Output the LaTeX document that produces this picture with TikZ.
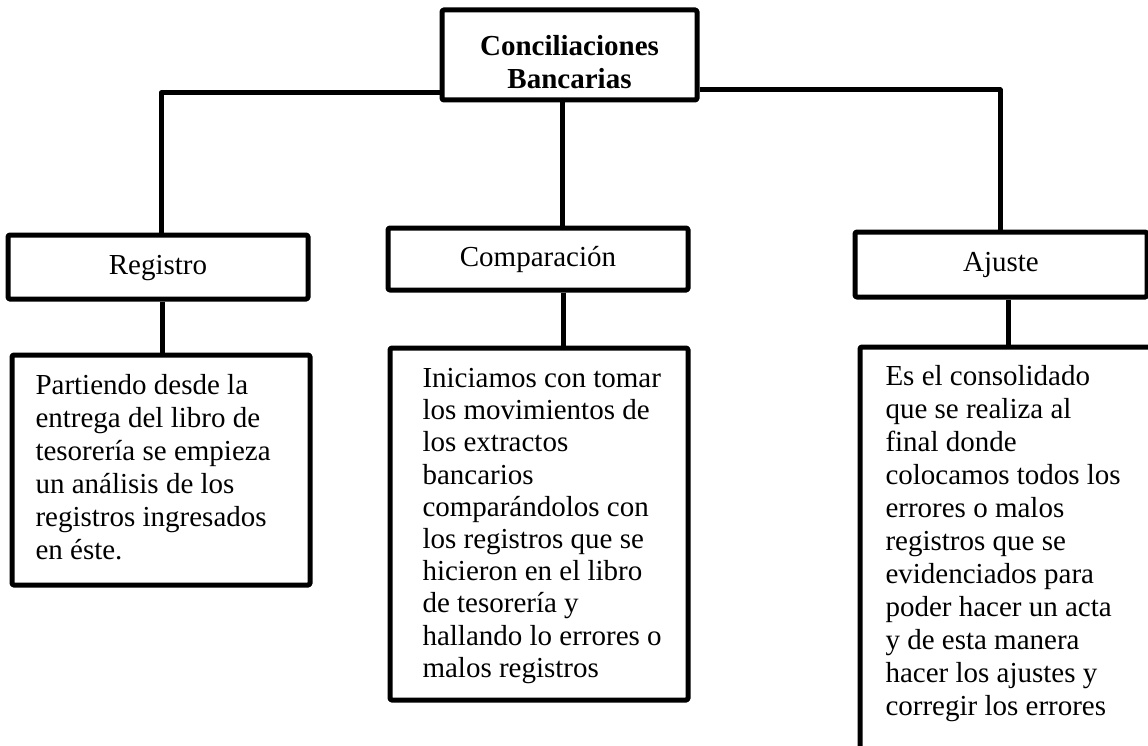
\documentclass[tikz,border=0pt]{standalone}
\usepackage{fontspec}
\setmainfont{Liberation Serif}
\begin{document}
\begin{tikzpicture}[x=1pt,y=-1pt,
  line width=5pt, line join=round,
  box/.style={draw=black, line width=5pt, rectangle, inner sep=0pt, rounded corners=1.5pt,
    font=\fontsize{29}{33}\selectfont, align=center},
  head/.style={box, text height=21pt, text depth=7pt},
  txt/.style={inner sep=0pt, anchor=north west, align=left, font=\fontsize{29}{33}\selectfont},
  link/.style={draw=black, line width=5pt}]
\useasboundingbox (0,0) rectangle (1148,746);
\clip (0,0) rectangle (1148,746);
\fill[white] (0,0) rectangle (1148,746);

% header boxes
\node[box, minimum width=255pt, minimum height=90pt, font=\fontsize{29}{33}\selectfont\bfseries] (top) at (569.5,55)
  {\rule{0pt}{34pt}Conciliaciones\\Bancarias};
\node[head, minimum width=300pt, minimum height=64pt] (reg) at (158,267) {Registro};
\node[head, minimum width=300pt, minimum height=62pt] (comp) at (538,259) {Comparación};
\node[head, minimum width=292pt, minimum height=65pt] (aj) at (1001,264.5) {Ajuste};

% description boxes
\node[box, minimum width=298pt, minimum height=230pt] (regbox) at (161,470) {};
\node[box, minimum width=298pt, minimum height=352pt] (compbox) at (539,524) {};
\node[box, minimum width=310pt, minimum height=423pt] (ajbox) at (1015,558.5) {};

% texts
\node[txt] (regtxt) at (33,368.9) {\strut Partiendo desde la\\
entrega del libro de\\
tesorería se empieza\\
un análisis de los\\
registros ingresados\\
en éste.};
\node[txt, font=\fontsize{29}{32.2}\selectfont] (comptxt) at (420,362.5) {\strut Iniciamos con tomar\\
los movimientos de\\
los extractos\\
bancarios\\
comparándolos con\\
los registros que se\\
hicieron en el libro\\
de tesorería y\\
hallando lo errores o\\
malos registros};
\node[txt] (ajtxt) at (883,359.9) {\strut Es el consolidado\\
que se realiza al\\
final donde\\
colocamos todos los\\
errores o malos\\
registros que se\\
evidenciados para\\
poder hacer un acta\\
y de esta manera\\
hacer los ajustes y\\
corregir los errores};

% helper coordinates
\coordinate (yl) at (0,93);
\coordinate (yr) at (0,90);
\coordinate (xl) at (161,0);
\coordinate (xm) at (562,0);
\coordinate (xr) at (1000,0);
\coordinate (xl2) at (162,0);
\coordinate (xm2) at (563,0);
\coordinate (xr2) at (1008,0);

% connectors
\draw[link] (top.west |- yl) -| (xl |- reg.north);
\draw[link] (top.east |- yr) -| (xr |- aj.north);
\draw[link] (xm |- top.south) -- (xm |- comp.north);
\draw[link] (xl2 |- reg.south) -- (xl2 |- regbox.north);
\draw[link] (xm2 |- comp.south) -- (xm2 |- compbox.north);
\draw[link] (xr2 |- aj.south) -- (xr2 |- ajbox.north);
\end{tikzpicture}
\end{document}
